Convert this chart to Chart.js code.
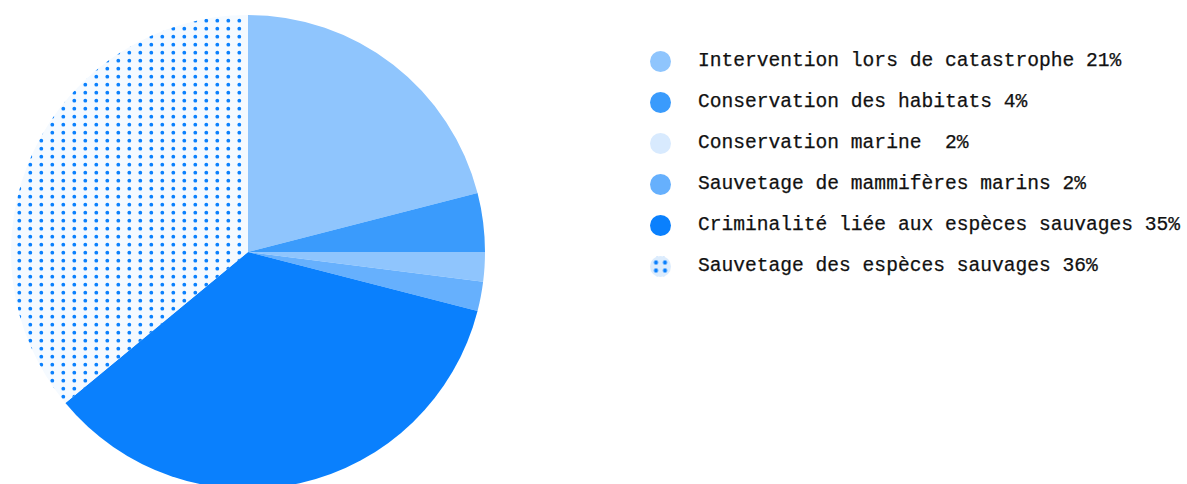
<!DOCTYPE html>
<html>
<head>
<meta charset="utf-8">
<script src="https://cdn.jsdelivr.net/npm/chart.js@4"></script>
<style>
  html, body { margin: 0; padding: 0; background: #fff; overflow: hidden; }
  #wrap { position: absolute; left: 0; top: 0; width: 496px; height: 489px; }
  #legend { position: absolute; left: 650px; top: 40.5px; font-family: "Liberation Mono", "DejaVu Sans Mono", monospace; font-size: 19.6px; color: #111; }
  .row { position: relative; height: 41.2px; white-space: pre; }
  .dot { position: absolute; left: 0; top: 10px; width: 21px; height: 21px; border-radius: 50%; }
  .txt { position: absolute; left: 48px; top: 0; line-height: 41px; -webkit-text-stroke: 0.25px #111; }
  .dots {
    background-color: #dcecfd;
    background-image: radial-gradient(circle, #0a80fd 1.8px, transparent 2.3px);
    background-size: 9px 8px;
    background-position: 1.5px 2.5px;
  }
</style>
</head>
<body>
<div id="wrap"><canvas id="pie"></canvas></div>
<div id="legend"></div>
<script>
const categories = [
  'Intervention lors de catastrophe',
  'Conservation des habitats',
  'Conservation marine ',
  'Sauvetage de mammifères marins',
  'Criminalité liée aux espèces sauvages',
  'Sauvetage des espèces sauvages'
];
const shares = [21, 4, 2, 2, 35, 36];
const sliceColors = ['#8fc5fd', '#3a9bfc', '#8fc5fd', '#66b0fd', '#0a80fd', 'pattern'];
const legendColors = ['#8fc5fd', '#3a9bfc', '#d8eafe', '#66b0fd', '#0a80fd', 'pattern'];

function dotPattern() {
  const tile = document.createElement('canvas');
  tile.width = 11; tile.height = 8;
  const c = tile.getContext('2d');
  c.fillStyle = '#f5faff';
  c.fillRect(0, 0, 11, 8);
  c.fillStyle = '#0a80fd';
  c.beginPath();
  c.arc(8.3, 4.7, 1.9, 0, Math.PI * 2);
  c.fill();
  return document.getElementById('pie').getContext('2d').createPattern(tile, 'repeat');
}

const pat = dotPattern();

new Chart(document.getElementById('pie'), {
  type: 'pie',
  data: {
    labels: categories,
    datasets: [{
      data: shares,
      backgroundColor: sliceColors.map(c => c === 'pattern' ? pat : c),
      borderWidth: 0
    }]
  },
  options: {
    responsive: true,
    maintainAspectRatio: false,
    animation: false,
    layout: { padding: { top: 15 } },
    plugins: { legend: { display: false }, tooltip: { enabled: false } }
  }
});

const legend = document.getElementById('legend');
categories.forEach((name, i) => {
  const row = document.createElement('div');
  row.className = 'row';
  const dot = document.createElement('div');
  dot.className = 'dot';
  if (legendColors[i] === 'pattern') dot.classList.add('dots');
  else dot.style.background = legendColors[i];
  const txt = document.createElement('div');
  txt.className = 'txt';
  txt.textContent = name + ' ' + shares[i] + '%';
  row.appendChild(dot);
  row.appendChild(txt);
  legend.appendChild(row);
});
</script>
</body>
</html>
